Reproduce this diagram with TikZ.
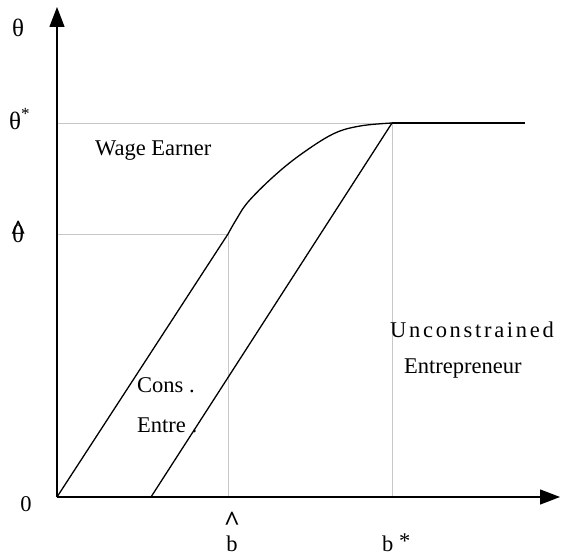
\documentclass[tikz,border=0pt]{standalone}
\usepackage{fontspec}
\setmainfont{Liberation Serif}
\newfontfamily\spacedfont[LetterSpace=12]{Liberation Serif}
\usetikzlibrary{arrows.meta}
\begin{document}
\begin{tikzpicture}[x=1pt,y=-1pt,
  axisline/.style={line width=1.3pt,-{Triangle[length=20pt,width=15pt]}},
  curveline/.style={line width=1.3pt},
  guide/.style={line width=0.8pt,draw=black!22},
  lbl/.style={inner sep=0pt,font=\fontsize{22.5}{26}\selectfont},
  glbl/.style={inner sep=0pt,font=\fontsize{25}{28}\selectfont},
]
\useasboundingbox (0,0) rectangle (561,556);
% key points
\coordinate (O) at (57,497);
\coordinate (Ytip) at (57,7);
\coordinate (Xtip) at (560,497);
\coordinate (A1) at (57,234);
\coordinate (A2) at (57,123);
\coordinate (P) at (228,234);
\coordinate (Q) at (392,123);
\coordinate (R) at (525,123);
\coordinate (S) at (151,497);
\coordinate (B1) at (228,497);
\coordinate (B2) at (392,497);
% guides
\draw[guide] (A2) -- (Q);
\draw[guide] (A1) -- (P);
\draw[guide] (P) -- (B1);
\draw[guide] (Q) -- (B2);
% curves
\draw[curveline] (O) -- (P);
\draw[curveline] plot[smooth,tension=0.6] coordinates {(228,234) (236,220) (248,202) (273,177) (300,155) (333,134) (360,126) (392,123)};
\draw[curveline] (Q) -- (R);
\draw[curveline] (S) -- (Q);
% axes
\draw[axisline] (O) -- (Ytip);
\draw[axisline] (O) -- (Xtip);
% labels
\node[glbl] (ltheta) at (18,28) {θ};
\node[glbl,anchor=base west] (lthetastar) at (9,130) {θ\raisebox{0.42em}{\fontsize{17}{17}\selectfont *}};
\node[glbl,anchor=base west] (lthetahat) at (12,242) {\makebox[0pt][l]{\hspace{-0.08em}\raisebox{0.1em}{\fontsize{28}{28}\selectfont\bfseries\textasciicircum}}θ};
\node[lbl] (lzero) at (26,504) {0};
\node[lbl,anchor=base,align=center] (lbhat) at (232,551) {{\fontsize{28}{28}\selectfont\bfseries\textasciicircum}\\[-5pt]b};
\node[lbl,anchor=base west] (lbstar) at (382,551) {b \raisebox{0.12em}{*}};
\node[lbl,anchor=base west] (lwage) at (95,155) {Wage Earner};
\node[lbl,anchor=base west] (lcons) at (137,392) {Cons .};
\node[lbl,anchor=base west] (lentre) at (137,432) {Entre .};
\node[lbl,anchor=base west] (lunc) at (390,337) {\spacedfont Unconstrained};
\node[lbl,anchor=base west] (lentrep) at (404,373) {Entrepreneur};
\end{tikzpicture}
\end{document}
